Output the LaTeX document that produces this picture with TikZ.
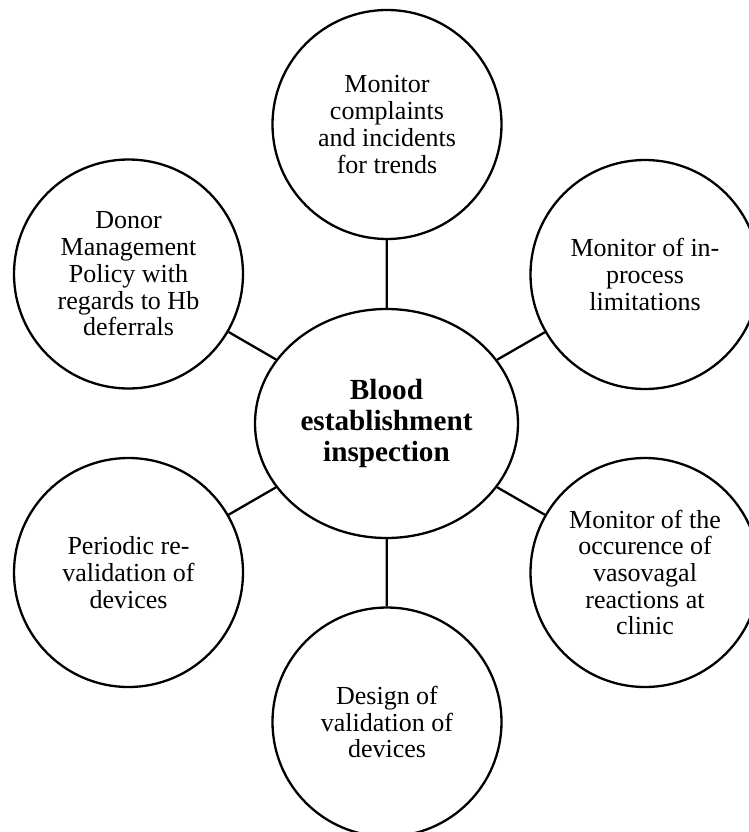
\documentclass[tikz,border=0pt]{standalone}
\usepackage{fontspec}
\setmainfont{Liberation Serif}
\usetikzlibrary{shapes.geometric}
\begin{document}
\begin{tikzpicture}[x=1pt,y=-1pt,
  topic/.style={circle,draw,line width=2.3pt,minimum size=229pt,inner sep=0pt,
    align=center,font=\fontsize{26}{26.7}\selectfont},
  hub/.style={ellipse,draw,line width=2.3pt,minimum width=263pt,minimum height=229pt,
    inner sep=0pt,align=center,font=\fontsize{29.2}{30.7}\selectfont\bfseries},
  link/.style={line width=2.3pt}]
\useasboundingbox (0,0) rectangle (749,832);
\node[hub] (c) at (386.5,423.5) {Blood\\establishment\\inspection};
\node[topic] (t)  at (387,124.5) {Monitor\\complaints\\and incidents\\for trends};
\node[topic] (ul) at (128.5,274) {Donor\\Management\\Policy with\\regards to Hb\\deferrals};
\node[topic] (ur) at (645,274.5) {Monitor of in-\\process\\limitations};
\node[topic] (ll) at (128.5,572.5) {Periodic re-\\validation of\\devices};
\node[topic] (lr) at (645,572.5) {Monitor of the\\occurence of\\vasovagal\\reactions at\\clinic};
\node[topic] (b)  at (387,722) {Design of\\validation of\\devices};
\foreach \n in {t,ul,ur,ll,lr,b}
  \draw[link] (c) -- (\n);
\end{tikzpicture}
\end{document}
